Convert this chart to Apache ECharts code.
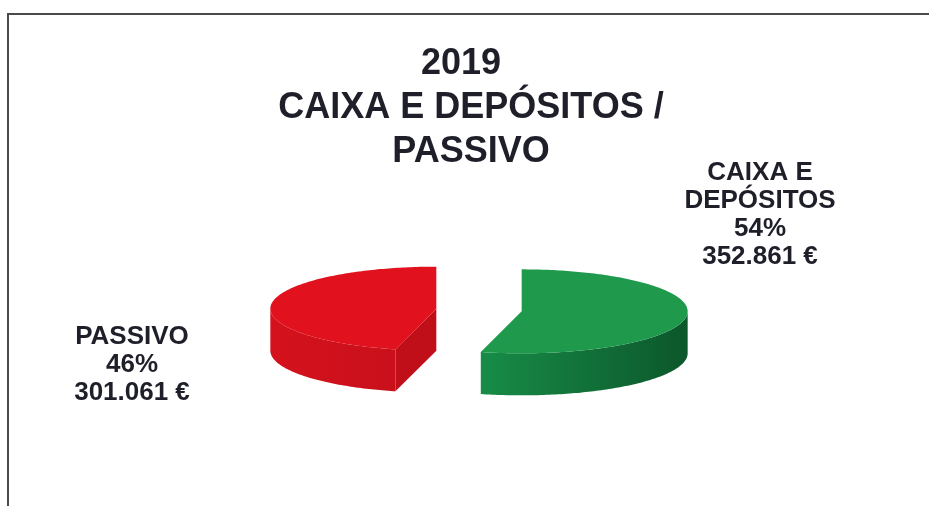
<!DOCTYPE html>
<html>
<head>
<meta charset="utf-8">
<title>2019 Caixa e Depósitos / Passivo</title>
<script src="https://cdn.jsdelivr.net/npm/echarts@6/dist/echarts.min.js"></script>
<style>
  html, body { margin: 0; padding: 0; background: #ffffff; }
  #chart { width: 929px; height: 506px; }
</style>
</head>
<body>
<div id="chart"></div>
<script>
// Slice names, amounts in euros and colours
var categories = ['CAIXA E\nDEPÓSITOS', 'PASSIVO'];
var amounts = [352861, 301061];
var titleLines = ['2019  ', 'CAIXA E DEPÓSITOS /', 'PASSIVO'];

var topColors = ['#1f9a4d', '#e1121e'];
var sideColors = [['#178c47', '#0c572b'], ['#d4121d', '#c9101b']];
var cutColors = ['#126e3a', '#c00f19'];

var total = amounts.reduce(function (s, v) { return s + v; }, 0);

function formatEuro(v) {
  return String(v).replace(/\B(?=(\d{3})+(?!\d))/g, '.') + ' €';
}

var FONT = '"Liberation Sans", Arial, sans-serif';
var TEXT_COLOR = '#1f1f2a';

// 3D pie geometry (tilted disc)
var RX = 166, RY = 42, DEPTH = 42, EXPLODE = 43;
var labelOffsets = [[281, -95], [-347, 55]];

function renderSlice(params, api) {
  var i = params.dataIndex;
  var cx0 = 479, cy0 = 310;
  var before = 0;
  for (var k = 0; k < i; k++) before += amounts[k];
  var t1 = before / total * 360;
  var t2 = (before + amounts[i]) / total * 360;
  var rad = Math.PI / 180;
  var mid = (t1 + t2) / 2 * rad;
  var cx = cx0 + EXPLODE * Math.sin(mid);
  var cy = cy0 - EXPLODE * Math.cos(mid) * (RY / RX);

  function pt(deg, z) {
    var r = deg * rad;
    return [cx + RX * Math.sin(r), cy - RY * Math.cos(r) + (z || 0)];
  }

  var children = [];

  // Outer wall: only the front half of the disc faces the viewer
  var s = Math.max(t1, 90), e = Math.min(t2, 270);
  if (e > s) {
    var wall = [];
    var d;
    for (d = s; d < e; d += 1) wall.push(pt(d, 0));
    wall.push(pt(e, 0));
    for (d = e; d > s; d -= 1) wall.push(pt(d, DEPTH));
    wall.push(pt(s, DEPTH));
    children.push({
      type: 'polygon',
      shape: { points: wall },
      style: {
        fill: {
          type: 'linear', x: 0, y: 0, x2: 1, y2: 0,
          colorStops: [
            { offset: 0, color: sideColors[i][0] },
            { offset: 1, color: sideColors[i][1] }
          ]
        }
      }
    });
  }

  // Radial cut faces that turn towards the viewer
  function cutFace(deg) {
    var p = pt(deg, 0), q = pt(deg, DEPTH);
    children.push({
      type: 'polygon',
      shape: { points: [[cx, cy], p, q, [cx, cy + DEPTH]] },
      style: { fill: cutColors[i] }
    });
  }
  if (Math.sin(t1 * rad) < -1e-6) cutFace(t1);
  if (Math.sin(t2 * rad) > 1e-6) cutFace(t2);

  // Top face
  var face = [[cx, cy]];
  for (var d2 = t1; d2 < t2; d2 += 1) face.push(pt(d2, 0));
  face.push(pt(t2, 0));
  children.push({
    type: 'polygon',
    shape: { points: face },
    style: { fill: topColors[i] }
  });

  // Data label
  var pct = Math.round(amounts[i] / total * 100) + '%';
  children.push({
    type: 'text',
    x: cx0 + labelOffsets[i][0],
    y: cy0 + labelOffsets[i][1],
    style: {
      text: categories[i] + '\n' + pct + '\n' + formatEuro(amounts[i]),
      fill: TEXT_COLOR,
      font: 'bold 26px ' + FONT,
      lineHeight: 28,
      align: 'center',
      verticalAlign: 'middle'
    }
  });

  return { type: 'group', children: children };
}

var chart = echarts.init(document.getElementById('chart'), null, { renderer: 'canvas' });
chart.setOption({
  backgroundColor: '#ffffff',
  animation: false,
  title: {
    text: titleLines.join('\n'),
    left: 471,
    textAlign: 'center',
    top: 42,
    padding: 0,
    textStyle: {
      fontFamily: FONT,
      fontWeight: 'bold',
      fontSize: 36,
      lineHeight: 44,
      color: TEXT_COLOR
    }
  },
  graphic: [{
    type: 'rect',
    shape: { x: 8, y: 14, width: 1000, height: 600 },
    style: { fill: 'none', stroke: '#4a4a4a', lineWidth: 2 },
    silent: true
  }],
  series: [{
    type: 'custom',
    coordinateSystem: 'none',
    data: amounts.map(function (v, idx) { return { name: categories[idx], value: v }; }),
    renderItem: renderSlice
  }]
});
</script>
</body>
</html>
